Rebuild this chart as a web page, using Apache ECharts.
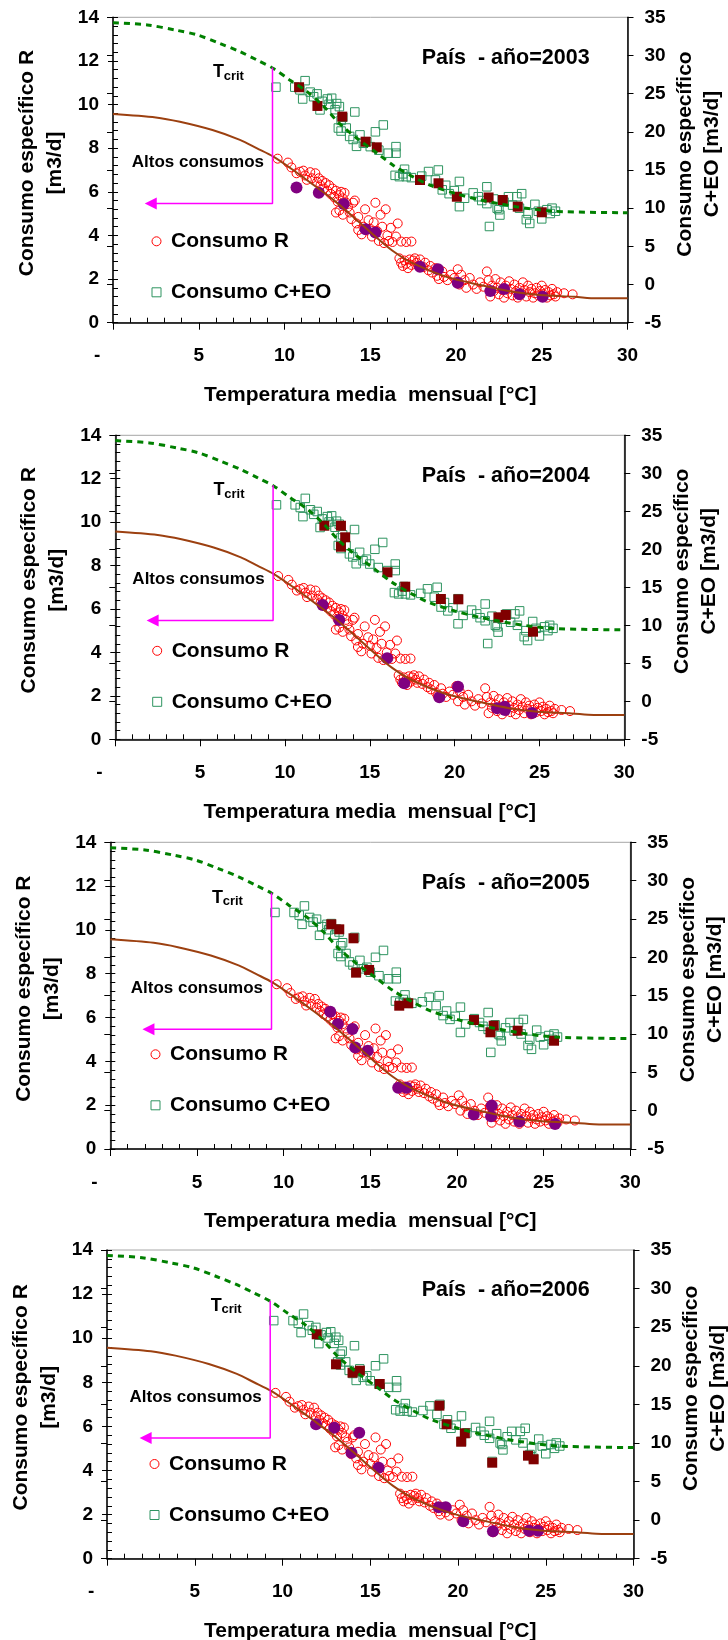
<!DOCTYPE html>
<html><head><meta charset="utf-8">
<script src="https://cdn.jsdelivr.net/npm/echarts@6/dist/echarts.min.js"></script>
<style>html,body{margin:0;padding:0;background:#fff}#c{width:728px;height:1640px}</style>
</head><body><div id="c"></div>
<script>
// ---------------- DATA ----------------
const years = [2003, 2004, 2005, 2006];
const xTickLabels = ['-', '5', '10', '15', '20', '25', '30'];   // at 0,5,...,30
const leftTickLabels = ['0', '2', '4', '6', '8', '10', '12', '14'];
const rightTickLabels = ['-5', '0', '5', '10', '15', '20', '25', '30', '35'];

// all-years cloud: Consumo R  [temperature, m3/d] (left axis)
const consumoR = [
 [9.6,7.52],[10.2,7.34],[10.4,7.12],[10.7,6.85],[10.9,6.92],[11.1,6.97],[11.2,6.75],[11.3,6.55],[11.5,6.9],[11.6,6.62],
 [11.8,6.85],[11.9,6.45],[12.0,6.62],[12.1,6.3],[12.2,6.5],[12.3,6.15],[12.4,6.4],[12.5,6.05],[12.6,6.3],[12.7,5.9],
 [12.8,6.15],[12.9,5.75],[13.0,6.05],[13.1,5.55],[13.2,5.85],[13.3,6.0],[13.4,5.7],[13.5,5.95],[13.6,5.5],[13.0,5.05],
 [13.2,5.15],[13.4,4.95],[13.7,5.3],[13.8,5.05],[14.0,5.5],[14.1,5.6],[13.9,4.75],[14.2,4.55],[14.3,4.85],[14.3,4.25],
 [14.5,4.05],[14.6,4.4],[14.7,5.2],[14.9,4.7],[15.0,4.3],[15.1,3.95],[15.2,4.6],[15.3,5.5],[15.4,4.2],[15.5,3.75],
 [15.6,4.95],[15.7,4.4],[15.8,3.65],[15.9,5.2],[16.0,4.0],[16.1,3.75],[16.2,4.35],[16.3,3.7],[16.5,3.95],[16.6,4.55],
 [16.8,3.72],[17.1,3.7],[17.4,3.72],[16.7,2.95],[16.8,2.75],[16.9,2.6],[17.0,2.85],[17.1,2.7],[17.2,2.5],[17.3,2.9],
 [17.4,2.65],[17.5,2.85],[17.6,2.95],[17.7,2.75],[17.8,2.6],[17.9,2.9],[18.1,2.55],[18.2,2.75],[18.4,2.4],[18.5,2.6],
 [18.6,2.3],[18.8,2.5],[18.9,2.15],[19.0,2.0],[19.2,2.35],[19.3,2.1],[19.5,1.95],[19.7,2.2],[19.9,2.05],[20.1,2.45],
 [20.2,1.75],[20.3,2.2],[20.5,1.95],[20.6,1.6],[20.8,2.05],[21.0,1.75],[21.2,1.55],[21.4,1.85],[21.6,1.65],[21.8,2.35],
 [21.9,1.95],[22.0,1.2],[22.1,1.7],[22.2,1.45],[22.3,2.0],[22.4,1.6],[22.5,1.3],[22.6,1.85],[22.7,1.5],[22.8,1.15],
 [22.9,1.7],[23.0,1.35],[23.1,1.9],[23.2,1.55],[23.3,1.25],[23.4,1.75],[23.5,1.45],[23.6,1.15],[23.7,1.6],[23.8,1.35],
 [23.9,1.85],[24.0,1.5],[24.1,1.2],[24.2,1.7],[24.3,1.4],[24.4,1.55],[24.5,1.15],[24.6,1.35],[24.7,1.6],[24.8,1.25],
 [24.9,1.45],[25.0,1.7],[25.1,1.3],[25.2,1.5],[25.3,1.15],[25.4,1.4],[25.5,1.25],[25.6,1.55],[25.7,1.3],[25.8,1.2],
 [25.9,1.4],[26.3,1.35],[26.8,1.3]
];
// all-years cloud: Consumo C+EO [temperature, m3/d] (right axis)
const consumoCEO = [
 [9.5,25.85],[10.6,25.85],[10.9,25.5],[11.2,26.7],[11.06,24.3],[11.5,25.2],[11.7,24.6],[11.9,24.97],[12.07,22.87],[12.2,24.0],
 [12.5,24.3],[12.6,23.6],[12.75,24.4],[12.95,22.9],[13.04,23.7],[13.2,23.3],[13.3,21.5],[13.4,21.9],[13.14,20.5],[13.3,20.1],
 [13.6,20.5],[14.1,22.6],[13.8,19.4],[14.0,19.0],[14.4,19.6],[14.2,18.1],[14.6,18.5],[14.8,18.7],[15.0,18.06],[15.3,20.0],
 [15.76,20.9],[15.5,17.6],[16.05,17.2],[16.5,18.06],[16.5,17.2],[16.45,14.3],[16.7,14.13],[16.9,14.5],[17.0,15.1],[17.1,14.13],
 [17.4,14.0],[18.0,14.2],[18.4,14.8],[18.97,15.0],[18.8,13.7],[19.2,12.4],[19.4,13.0],[19.6,11.9],[19.9,12.3],[20.2,13.5],
 [20.2,10.2],[20.5,11.3],[21.0,12.0],[21.3,11.5],[21.5,11.0],[21.8,12.8],[21.8,10.6],[21.95,7.6],[22.2,11.2],[22.4,10.0],
 [22.5,9.8],[22.56,9.1],[22.8,10.8],[23.06,11.5],[23.3,10.4],[23.55,11.5],[23.7,10.0],[23.83,11.9],[24.1,8.5],[24.3,8.0],
 [24.2,9.3],[24.6,10.5],[24.8,9.6],[25.0,8.6],[25.3,9.8],[25.5,9.3],[25.6,10.0],[25.8,9.6]
];
// fitted curves
const curvaR = [[0,9.57],[2.5,9.41],[3.9,9.21],[5.8,8.83],[7.4,8.38],[8.4,7.99],[9.35,7.61],[10.5,7.0],[11.7,6.31],[12.85,5.63],
 [14.0,4.86],[15.2,4.02],[16.3,3.3],[17.5,2.72],[19.45,2.1],[21.4,1.73],[23.3,1.42],[24.9,1.27],[26.9,1.19],[28.2,1.12],[30,1.12]];
const curvaCEO = [[0,34.3],[2,34.0],[3.7,33.3],[4.9,32.7],[6.2,31.6],[7.4,30.5],[8.4,29.4],[9.35,28.3],[10.3,26.8],[11.3,25.3],
 [12.3,23.3],[13.2,21.1],[14.2,19.2],[15.4,17.2],[16.35,15.6],[17.5,14.1],[18.5,13.0],[20,11.9],[21.4,11.1],[23.5,10.2],[25.7,9.6],[30,9.4]];
// T crit annotation (temperature, top value, arrow level, arrow end)
const tCrit = 9.3, tCritTop = 11.7, tCritLevel = 5.47, arrowEnd = 2.2;

// highlighted year values
const rAnual2003 = [[10.7,6.2],[12.0,5.96],[13.45,5.44],[14.73,4.28],[15.3,4.14],[17.9,2.57],[18.95,2.45],[20.1,1.83],[22.0,1.45],[22.8,1.55],[23.7,1.3],[25.05,1.19]];
const ceoAnual2003 = [[10.85,25.84],[11.92,23.39],[13.37,21.99],[14.73,18.71],[15.38,17.97],[17.9,13.69],[18.98,13.26],[20.05,11.5],[21.9,11.4],[22.73,11.07],[23.6,10.2],[25.0,9.46]];
const rAnual2004 = [[12.22,6.19],[13.2,5.49],[16.02,3.73],[17.03,2.58],[19.1,1.94],[20.2,2.42],[22.5,1.43],[22.97,1.35],[22.95,1.5],[24.56,1.21]];
const ceoAnual2004 = [[12.32,23.1],[13.3,23.1],[13.55,21.58],[13.3,20.34],[16.04,16.97],[17.09,15.08],[19.19,13.46],[20.22,13.42],[22.58,11.05],[23.01,11.36],[24.62,9.16]];
const rAnual2005 = [[12.69,6.27],[13.13,5.71],[13.97,5.48],[14.13,4.63],[14.85,4.49],[16.61,2.8],[17.09,2.8],[20.97,1.58],[22.01,1.98],[21.97,1.5],[23.6,1.25],[25.66,1.14]];
const ceoAnual2005 = [[12.75,24.3],[13.21,23.65],[14.03,22.48],[14.18,18.0],[14.93,18.35],[16.67,13.69],[17.19,14.0],[20.98,11.82],[22.12,11.08],[21.93,10.22],[23.5,10.43],[25.6,9.12]];
const rAnual2006 = [[11.91,6.1],[12.95,5.94],[14.37,5.71],[13.93,4.81],[15.48,4.13],[18.9,2.33],[19.3,2.33],[20.3,1.7],[21.99,1.24],[24.05,1.27],[24.56,1.27]];
const ceoAnual2006 = [[11.95,24.08],[13.05,20.19],[13.99,19.1],[14.41,19.36],[15.54,17.64],[18.94,14.83],[19.35,12.42],[20.39,11.25],[20.18,10.16],[21.95,7.44],[23.99,8.35],[24.31,7.88]];
const rAnual = [rAnual2003, rAnual2004, rAnual2005, rAnual2006];
const ceoAnual = [ceoAnual2003, ceoAnual2004, ceoAnual2005, ceoAnual2006];

// ---------------- LAYOUT ----------------
const boxes = [
  {l:113, r:627.5, t:17.3, b:322.7},
  {l:115.3, r:624.3, t:435.3, b:739.3},
  {l:110.3, r:630.3, t:842.3, b:1149},
  {l:107, r:633.5, t:1250, b:1558.7}
];
const legendRel = [224, 215.5, 212, 214];
const legendX = [156, 156.7, 155, 154];
const FONT = '"Liberation Sans", Arial, Helvetica, sans-serif';
const BOLD = {fontFamily: FONT, fontWeight: 'bold', color: '#000'};

const chart = echarts.init(document.getElementById('c'), null, {renderer: 'canvas'});

const grid = [], xAxis = [], yAxis = [], series = [], legend = [];
const minorX = []; for (let v = 1; v < 30; v++) if (v % 5) minorX.push(v);

boxes.forEach((bx, i) => {
  grid.push({left: bx.l, top: bx.t, width: bx.r - bx.l, height: bx.b - bx.t,
    show: true, borderColor: '#a6a6a6', borderWidth: 1, backgroundColor: 'transparent',
    outerBoundsMode: 'none', containLabel: false});
  // main x axis
  xAxis.push({type: 'value', gridIndex: i, position: 'bottom', min: 0, max: 30, interval: 5,
    axisLine: {show: true, onZero: false, lineStyle: {color: '#000', width: 1.5}},
    axisTick: {show: true, inside: false, length: 7, lineStyle: {color: '#000', width: 1}},
    axisLabel: {show: true, margin: 24, fontSize: 19, ...BOLD,
      formatter: v => { const k = Math.round(v / 5); return k === 0 ? xTickLabels[0] + '      ' : xTickLabels[k]; }},
    splitLine: {show: false},
    name: 'Temperatura media  mensual [°C]', nameLocation: 'middle', nameGap: 62,
    nameTextStyle: {fontSize: 21, ...BOLD}, nameMoveOverlap: false});
  // minor x ticks (inside)
  xAxis.push({type: 'value', gridIndex: i, position: 'bottom', min: 0, max: 30, interval: 1,
    axisLine: {show: false}, axisLabel: {show: false}, splitLine: {show: false},
    axisTick: {show: true, inside: true, length: 5, customValues: minorX, lineStyle: {color: '#000', width: 1}}});
  // left main
  yAxis.push({type: 'value', gridIndex: i, position: 'left', min: 0, max: 14, interval: 2,
    axisLine: {show: true, onZero: false, lineStyle: {color: '#000', width: 1.5}},
    axisTick: {show: true, inside: false, length: 5, lineStyle: {color: '#000'}},
    axisLabel: {margin: 14, fontSize: 19, ...BOLD, formatter: v => leftTickLabels[Math.round(v / 2)]},
    splitLine: {show: false},
    name: 'Consumo específico R\n[m3/d]', nameLocation: 'middle', nameRotate: 90, nameGap: 44,
    nameMoveOverlap: false,
    nameTextStyle: {fontSize: 21, lineHeight: 28, ...BOLD, padding: [0, 0, 0, 14]}});
  // left minor (inside)
  yAxis.push({type: 'value', gridIndex: i, position: 'left', min: 0, max: 14, interval: 0.4,
    axisLine: {show: false}, axisLabel: {show: false}, splitLine: {show: false},
    axisTick: {show: true, inside: true, length: 5, lineStyle: {color: '#000'}}});
  // right main
  yAxis.push({type: 'value', gridIndex: i, position: 'right', min: -5, max: 35, interval: 5,
    axisLine: {show: true, onZero: false, lineStyle: {color: '#000', width: 1.5}},
    axisTick: {show: true, inside: false, length: 6, lineStyle: {color: '#000'}},
    axisLabel: {margin: 17, fontSize: 19, ...BOLD, formatter: v => rightTickLabels[Math.round((v + 5) / 5)]},
    splitLine: {show: false},
    name: 'Consumo específico\nC+EO [m3/d]', nameLocation: 'middle', nameRotate: 90, nameGap: 44,
    nameMoveOverlap: false,
    nameTextStyle: {fontSize: 21, lineHeight: 27, ...BOLD, padding: [0, 0, 0, 32]}});
  // right inner ticks
  yAxis.push({type: 'value', gridIndex: i, position: 'right', min: -5, max: 35, interval: 5,
    axisLine: {show: false}, axisLabel: {show: false}, splitLine: {show: false},
    axisTick: {show: true, inside: true, length: 6, lineStyle: {color: '#000'}}});

  const xi = 2 * i, yl = 4 * i, yr = 4 * i + 2;
  const common = {xAxisIndex: xi, silent: true, animation: false};
  series.push({...common, type: 'scatter', name: 'Consumo R', yAxisIndex: yl, data: consumoR,
    symbol: 'circle', symbolSize: 9, itemStyle: {color: 'rgba(0,0,0,0)', borderColor: '#ff0000', borderWidth: 1, opacity: 1}});
  series.push({...common, type: 'scatter', name: 'Consumo C+EO', yAxisIndex: yr, data: consumoCEO,
    symbol: 'rect', symbolSize: 8.5, itemStyle: {color: 'rgba(0,0,0,0)', borderColor: '#2e9460', borderWidth: 1, opacity: 1}});
  series.push({...common, type: 'line', name: 'curvaR', yAxisIndex: yl, data: curvaR, smooth: 0.3,
    symbol: 'none', lineStyle: {color: '#9c4010', width: 2}});
  series.push({...common, type: 'line', name: 'curvaCEO', yAxisIndex: yr, data: curvaCEO, smooth: 0.3,
    symbol: 'none', lineStyle: {color: '#008000', width: 3, type: [6, 5]}});
  series.push({...common, type: 'line', name: 'tcrit', yAxisIndex: yl, symbol: 'circle', symbolSize: 0,
    data: [[tCrit, tCritTop], [tCrit, tCritLevel],
      {value: [arrowEnd, tCritLevel], symbol: 'triangle', symbolSize: [12, 12], symbolRotate: 90}],
    lineStyle: {color: '#ff00ff', width: 1.5}, itemStyle: {color: '#ff00ff', opacity: 1}});
  series.push({...common, type: 'scatter', name: 'ceoAnual', yAxisIndex: yr, data: ceoAnual[i],
    symbol: 'rect', symbolSize: 10, itemStyle: {color: '#800000', opacity: 1}});
  series.push({...common, type: 'scatter', name: 'rAnual', yAxisIndex: yl, data: rAnual[i],
    symbol: 'circle', symbolSize: [12, 12], itemStyle: {color: '#800080', opacity: 1}});

  legend.push({data: ['Consumo R', 'Consumo C+EO'], orient: 'vertical', selectedMode: false,
    left: legendX[i] - 4.5, top: bx.t + legendRel[i] - 12, itemWidth: 9, itemHeight: 9, itemGap: 27,
    padding: 0, itemStyle: {borderWidth: 1, opacity: 1},
    textStyle: {fontSize: 21, lineHeight: 24, ...BOLD, padding: [0, 0, 0, 5]}});
});

chart.setOption({animation: false, grid, xAxis, yAxis, series, legend});

// annotations positioned from the library's own scales
const graphic = [];
boxes.forEach((bx, i) => {
  const top = chart.convertToPixel({xAxisIndex: 2 * i, yAxisIndex: 4 * i}, [tCrit, tCritTop]);
  const corner = chart.convertToPixel({xAxisIndex: 2 * i, yAxisIndex: 4 * i}, [tCrit, tCritLevel]);
  graphic.push({type: 'text', x: top[0] - 59.5, y: top[1] + 5, silent: true,
    style: {text: 'T', font: 'bold 18px ' + FONT, fill: '#000', verticalAlign: 'middle', align: 'left'}});
  graphic.push({type: 'text', x: top[0] - 48.8, y: top[1] + 9, silent: true,
    style: {text: 'crit', font: 'bold 13px ' + FONT, fill: '#000', verticalAlign: 'middle', align: 'left'}});
  graphic.push({type: 'text', x: corner[0] - 8.5, y: corner[1] - 41, silent: true,
    style: {text: 'Altos consumos', font: 'bold 17px ' + FONT, fill: '#000', verticalAlign: 'middle', align: 'right'}});
  graphic.push({type: 'text', x: 421.7, y: bx.t + 40.5, silent: true,
    style: {text: 'País  - año=' + years[i], font: 'bold 21.5px ' + FONT, fill: '#000', verticalAlign: 'middle', align: 'left'}});
});
chart.setOption({graphic});
</script></body></html>
